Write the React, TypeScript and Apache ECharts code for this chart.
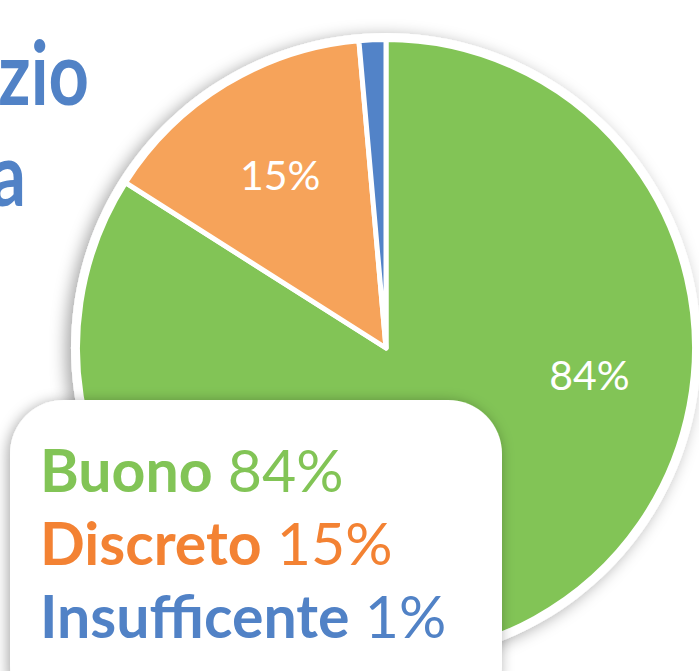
import React, { useEffect, useRef } from "react";
import * as echarts from "echarts";

const categories = ["Buono", "Discreto", "Insufficente"];
const values = [84.0, 14.6, 1.4];
const sliceColors = ["#82C456", "#F6A35A", "#5283C8"];
const legendColors = ["#82C456", "#F38233", "#5182C6"];
const titleLines = ["zio", "a"];
const showLabel = [true, true, false];

const FONT = "Lato, 'Open Sans', sans-serif";

export default function App() {
  const ref = useRef<HTMLDivElement>(null);
  useEffect(() => {
    if (!ref.current) return;
    const chart = echarts.init(ref.current, null, { renderer: "svg" });
    const cx = 386;
    const cy = 348;
    const R = 308.5;
    const total = values.reduce((a, b) => a + b, 0);
    const labelPos = (idx: number) => {
      if (idx === 0) return { ang: 97.5, rr: 0.665 };
      let start = 0;
      for (let i = 0; i < idx; i++) start += (values[i] / total) * 360;
      const mid = start + (values[idx] / total) * 180;
      return { ang: mid, rr: 0.66 };
    };
    const option: any = {
      animation: false,
      backgroundColor: "#ffffff",
      graphic: [
        ...titleLines.map((t, i) => ({
          type: "text",
          z: 1,
          x: i === 0 ? 89 : 26,
          y: 27 + i * 101,
          scaleX: 0.8,
          style: {
            text: t,
            fill: "#5182C6",
            font: `bold 88px ${FONT}`,
            textAlign: "right",
            textVerticalAlign: "top",
          },
        })),
        {
          type: "rect",
          z: 100,
          shape: { x: 10, y: 400, width: 492, height: 320, r: 54 },
          style: {
            fill: "#ffffff",
            shadowBlur: 14,
            shadowColor: "rgba(0,0,0,0.35)",
            shadowOffsetX: -2,
            shadowOffsetY: 2,
          },
        },
        ...categories.map((c, i) => ({
          type: "text",
          z: 101,
          x: 40,
          y: 440 + i * 73,
          style: {
            text: `{b|${c}}{n| ${Math.round(values[i])}%}`,
            rich: {
              b: { fontFamily: FONT, fontWeight: "bold", fontSize: 59, fill: legendColors[i], color: legendColors[i] },
              n: { fontFamily: FONT, fontWeight: "normal", fontSize: 59, fill: legendColors[i], color: legendColors[i] },
            },
            fill: legendColors[i],
            textVerticalAlign: "top",
          },
        })),
      ],
      series: [
        {
          type: "pie",
          silent: true,
          z: 1,
          center: [cx, cy],
          radius: [0, 315],
          label: { show: false },
          emphasis: { disabled: true },
          data: [{ value: 1, itemStyle: { color: "#ffffff", shadowBlur: 16, shadowColor: "rgba(0,0,0,0.35)", shadowOffsetX: -5, shadowOffsetY: 3 } }],
        },
        {
          type: "pie",
          z: 2,
          center: [cx, cy],
          radius: [0, R],
          startAngle: 90,
          clockwise: true,
          emphasis: { disabled: true },
          itemStyle: { borderColor: "#ffffff", borderWidth: 5 },
          label: {
            show: true,
            position: "inside",
            color: "#ffffff",
            fontFamily: FONT,
            fontSize: 41,
            formatter: (p: any) => `${Math.round(p.value)}%`,
          },
          labelLayout: (p: any) => {
            const { ang, rr } = labelPos(p.dataIndex);
            const a = (ang * Math.PI) / 180;
            return {
              x: cx + Math.sin(a) * R * rr,
              y: cy - Math.cos(a) * R * rr,
              align: "center",
              verticalAlign: "middle",
            };
          },
          data: categories.map((c, i) => ({
            name: c,
            value: values[i],
            itemStyle: { color: sliceColors[i] },
            label: { show: showLabel[i] },
          })),
        },
      ],
    };
    chart.setOption(option);
    return () => chart.dispose();
  }, []);
  return (
    <div
      ref={ref}
      style={{ position: "fixed", left: 0, top: 0, width: 699, height: 671 }}
    />
  );
}
